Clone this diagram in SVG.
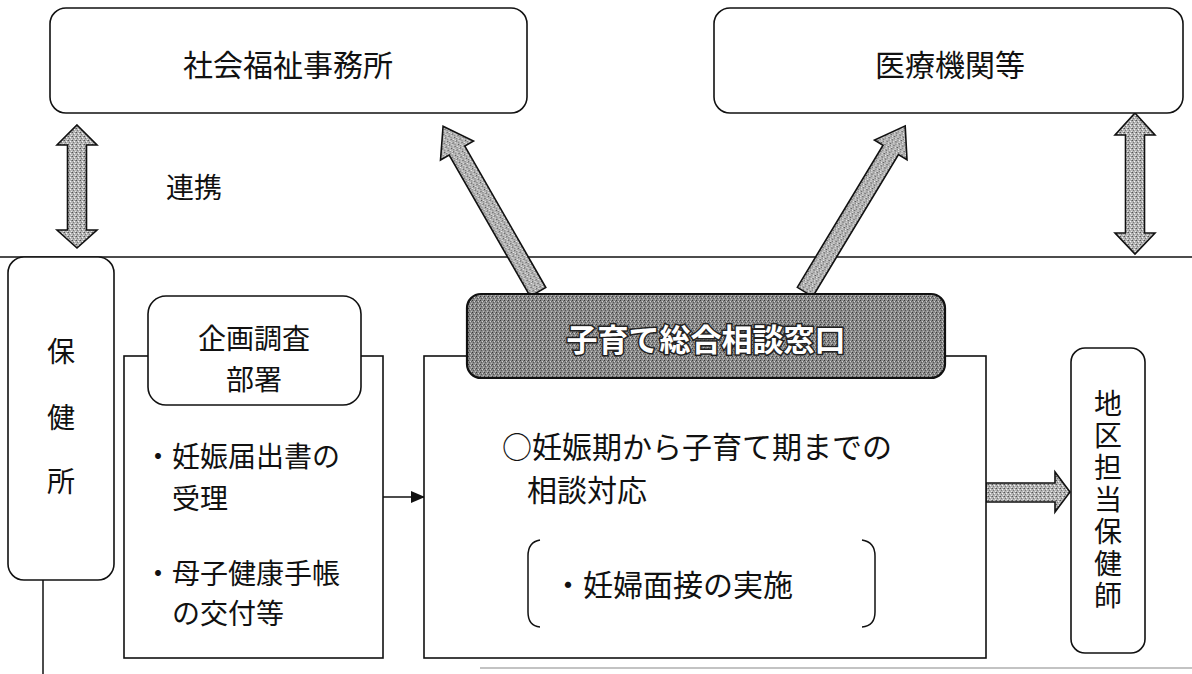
<svg xmlns="http://www.w3.org/2000/svg" width="1192" height="674" viewBox="0 0 1192 674">
<style>
.box{fill:#fff;stroke:#111;stroke-width:1.6}
.t{font-family:"Noto Sans CJK JP","Noto Sans CJK SC",sans-serif;fill:#111;dominant-baseline:central}
.vt{font-family:"Noto Sans CJK JP","Noto Sans CJK SC",sans-serif;fill:#111;writing-mode:vertical-rl}
.ln{stroke:#111;stroke-width:1.5;fill:none}
.garrow{fill:url(#tex);stroke:#111;stroke-width:1.6;stroke-linejoin:miter}
.head{font-family:"Noto Sans CJK JP","Noto Sans CJK SC",sans-serif;font-weight:bold;fill:#fff;stroke:#222;stroke-width:3;paint-order:stroke;dominant-baseline:central}
</style>
<defs>
<pattern id="tex" width="4" height="4" patternUnits="userSpaceOnUse">
<rect width="4" height="4" fill="#b4b4b4"/>
<rect x="0" y="0" width="1" height="1" fill="#555"/>
<rect x="2" y="1" width="1" height="1" fill="#f4f4f4"/>
<rect x="1" y="2" width="1" height="1" fill="#777"/>
<rect x="3" y="3" width="1" height="1" fill="#e6e6e6"/>
<rect x="3" y="0" width="1" height="1" fill="#888"/>
</pattern>
<pattern id="tex2" width="4" height="4" patternUnits="userSpaceOnUse">
<rect width="4" height="4" fill="#8a8a8a"/>
<rect x="0" y="0" width="1" height="1" fill="#3a3a3a"/>
<rect x="2" y="1" width="1" height="1" fill="#d0d0d0"/>
<rect x="1" y="2" width="1" height="1" fill="#555"/>
<rect x="3" y="3" width="1" height="1" fill="#bbb"/>
<rect x="3" y="1" width="1" height="1" fill="#666"/>
</pattern>
<marker id="blk" markerWidth="14" markerHeight="12" refX="13" refY="6" orient="auto" markerUnits="userSpaceOnUse">
<path d="M0,0 L14,6 L0,12 Z" fill="#111"/>
</marker>
</defs>
<rect width="1192" height="674" fill="#fff"/>

<g id="connectors">
<line class="ln" x1="0" y1="257" x2="1192" y2="257"/>
<line class="ln" x1="43" y1="580" x2="43" y2="674"/>
<line x1="480" y1="668" x2="1192" y2="668" stroke="#888" stroke-width="1.2"/>
<polygon class="garrow" points="77,125 97,145 86.5,145 86.5,230 97,230 77,248 57,230 67.5,230 67.5,145 57,145"/>
<polygon class="garrow" points="1135,113 1155,135 1144.5,135 1144.5,233 1155,233 1135,254 1115,233 1125.5,233 1125.5,135 1115,135"/>
<polygon class="garrow" transform="translate(538,292) rotate(-29.8)" points="-9,0 -9,-163 -19,-163 0,-191 19,-163 9,-163 9,0"/>
<polygon class="garrow" transform="translate(805,292) rotate(31.1)" points="-9,0 -9,-166 -19,-166 0,-194 19,-166 9,-166 9,0"/>
<polygon class="garrow" points="986,483 1055,483 1055,472 1070,492 1055,512 1055,502 986,502"/>
<line class="ln" x1="383" y1="497" x2="424" y2="497" marker-end="url(#blk)"/>
</g>

<g id="shakai-fukushi">
<rect class="box" x="50" y="8" width="477" height="105" rx="16"/>
<text class="t" x="288" y="63" font-size="30" text-anchor="middle">社会福祉事務所</text>
</g>

<g id="iryo-kikan">
<rect class="box" x="714" y="8" width="469" height="105" rx="16"/>
<text class="t" x="950" y="63" font-size="30" text-anchor="middle">医療機関等</text>
</g>

<g id="renkei-label">
<text class="t" x="194" y="186" font-size="28" text-anchor="middle">連携</text>
</g>

<g id="hokenjo">
<rect class="box" x="8" y="257" width="106" height="323" rx="16"/>
<text class="t" x="61" y="350" font-size="28" text-anchor="middle">保</text>
<text class="t" x="61" y="416" font-size="28" text-anchor="middle">健</text>
<text class="t" x="61" y="480" font-size="28" text-anchor="middle">所</text>
</g>

<g id="kikaku">
<rect class="box" x="124" y="356" width="259" height="302"/>
<rect class="box" x="148" y="296" width="213" height="109" rx="18"/>
<text class="t" x="254" y="337" font-size="28" text-anchor="middle">企画調査</text>
<text class="t" x="254" y="378" font-size="28" text-anchor="middle">部署</text>
<text class="t" x="144" y="455" font-size="28">・妊娠届出書の</text>
<text class="t" x="172" y="497" font-size="28">受理</text>
<text class="t" x="144" y="572" font-size="28">・母子健康手帳</text>
<text class="t" x="172" y="612" font-size="28">の交付等</text>
</g>

<g id="sodan-madoguchi">
<rect class="box" x="424" y="356" width="562" height="302"/>
<rect x="467" y="294" width="478" height="84" rx="14" fill="url(#tex2)" stroke="#111" stroke-width="2.2"/>
<text class="head" x="706" y="337" font-size="31" text-anchor="middle">子育て総合相談窓口</text>
<text class="t" x="502" y="445" font-size="30">○妊娠期から子育て期までの</text>
<text class="t" x="527" y="488" font-size="30">相談対応</text>
<path class="ln" d="M540,540 Q528,542 528,556 L528,612 Q528,626 540,627"/>
<path class="ln" d="M862,540 Q875,542 875,556 L875,612 Q875,626 862,627"/>
<text class="t" x="553" y="583" font-size="30">・妊婦面接の実施</text>
</g>

<g id="chiku-hokenshi">
<rect class="box" x="1071" y="348" width="74" height="305" rx="14"/>
<text class="vt" x="1108" y="389" font-size="28" letter-spacing="4">地区担当保健師</text>
</g>
</svg>
